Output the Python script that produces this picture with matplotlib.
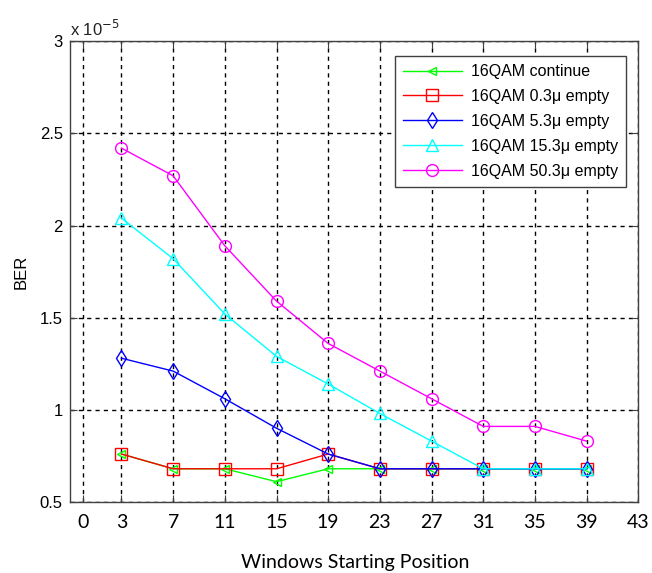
import matplotlib
matplotlib.use("Agg")
import matplotlib.pyplot as plt

# posiciones de inicio de ventana
positions = [3, 7, 11, 15, 19, 23, 27, 31, 35, 39]

# BER (x 1e-5) por configuracion
ber_continue = [0.76, 0.68, 0.68, 0.61, 0.68, 0.68, 0.68, 0.68, 0.68, 0.68]
ber_03 = [0.76, 0.68, 0.68, 0.68, 0.76, 0.68, 0.68, 0.68, 0.68, 0.68]
ber_53 = [1.28, 1.21, 1.06, 0.90, 0.76, 0.68, 0.68, 0.68, 0.68, 0.68]
ber_153 = [2.04, 1.82, 1.52, 1.29, 1.14, 0.98, 0.83, 0.68, 0.68, 0.68]
ber_503 = [2.42, 2.27, 1.89, 1.59, 1.36, 1.21, 1.06, 0.91, 0.91, 0.83]

labels = ["16QAM continue", "16QAM 0.3\u03bc empty", "16QAM 5.3\u03bc empty",
          "16QAM 15.3\u03bc empty", "16QAM 50.3\u03bc empty"]
xticks = [0, 3, 7, 11, 15, 19, 23, 27, 31, 35, 39, 43]
yticks = [0.5, 1, 1.5, 2, 2.5, 3]

plt.rcParams["font.family"] = ["Liberation Sans", "DejaVu Sans"]

fig = plt.figure(figsize=(6.52, 5.73), dpi=100)
ax = fig.add_axes([0.107, 0.124, 0.872, 0.804])

series = [ber_continue, ber_03, ber_53, ber_153, ber_503]
colors = ["#00ff00", "#ff0000", "#0000ff", "#00ffff", "#ff00ff"]
markers = ["<", "s", "d", "^", "o"]
sizes = [6, 8, 8, 8.5, 8.5]
for vals, c, m, ms, lab in zip(series, colors, markers, sizes, labels):
    ax.plot(positions, vals, color=c, marker=m, markersize=ms,
            markerfacecolor="none", markeredgecolor=c, linewidth=1.0,
            markeredgewidth=1.0, label=lab)

ax.set_xlim(-1, 43)
ax.set_ylim(0.5, 3)
ax.set_xticks(xticks)
ax.set_yticks(yticks)
ax.set_yticklabels(["0.5", "1", "1.5", "2", "2.5", "3"])
ax.grid(True, color="black", linestyle=(0, (3, 3)), linewidth=1.0)
ax.tick_params(direction="in", top=True, right=True, labelsize=12,
               length=5, color="#404040", pad=5)
ax.tick_params(axis="x", pad=9)
for t in ax.get_xticklabels():
    t.set_family(["Lato", "DejaVu Sans"])
    t.set_fontsize(14)
for sp in ax.spines.values():
    sp.set_color("#404040")
    sp.set_linewidth(1.0)

ax.text(0.0, 1.005, "x 10$^{-5}$", transform=ax.transAxes, fontsize=12,
        ha="left", va="bottom", color="#222222")
ax.set_ylabel("BER", fontsize=12, labelpad=8)
fig.text(0.545, 0.003, "Windows Starting Position", ha="center", va="bottom",
         fontsize=14, family=["Lato", "DejaVu Sans"])

leg = ax.legend(loc="upper right", bbox_to_anchor=(0.993, 0.985), fontsize=11.5,
                fancybox=False, edgecolor="#404040", framealpha=1,
                handlelength=3.7, labelspacing=0.62, borderpad=0.5,
                handletextpad=0.6)
leg.get_frame().set_linewidth(1.0)

fig.savefig("out.png", dpi=100)
plt.close(fig)
